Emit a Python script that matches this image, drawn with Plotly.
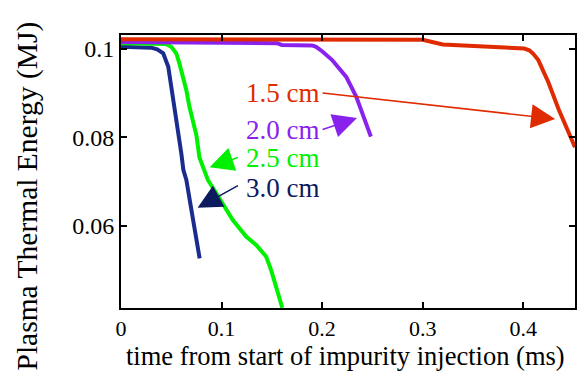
import plotly.graph_objects as go

# ---- data ----
t_15 = [0.0, 0.10, 0.20, 0.300, 0.320, 0.370, 0.401, 0.406, 0.410, 0.415, 0.425, 0.435, 0.445, 0.4515]
e_15 = [0.1022, 0.1022, 0.1022, 0.1021, 0.1010, 0.1004, 0.1001, 0.0997, 0.0989, 0.0975, 0.0925, 0.0865, 0.0812, 0.0778]

t_20 = [0.0, 0.070, 0.155, 0.160, 0.190, 0.194, 0.200, 0.210, 0.224, 0.234, 0.2416, 0.2485]
e_20 = [0.1016, 0.1015, 0.1013, 0.1009, 0.1008, 0.1005, 0.0995, 0.0975, 0.0937, 0.0892, 0.0847, 0.0802]

t_25 = [0.0, 0.045, 0.050, 0.055, 0.058, 0.0617, 0.065, 0.068, 0.0716, 0.075, 0.078, 0.082,
        0.0864, 0.0948, 0.103, 0.111, 0.1245, 0.1344, 0.1443, 0.1492, 0.1542, 0.1604]
e_25 = [0.1013, 0.1011, 0.1005, 0.0990, 0.0968, 0.0937, 0.0907, 0.0870, 0.0835, 0.0805, 0.0755, 0.0728,
        0.0704, 0.0674, 0.0644, 0.0614, 0.0576, 0.0557, 0.0531, 0.0501, 0.0463, 0.0415]

t_30 = [0.0, 0.030, 0.036, 0.042, 0.047, 0.050, 0.0535, 0.057, 0.060, 0.062, 0.065, 0.069, 0.0733, 0.0782]
e_30 = [0.1005, 0.1003, 0.0999, 0.0990, 0.0960, 0.0915, 0.0870, 0.0817, 0.0764, 0.0727, 0.0704, 0.0650, 0.0591, 0.0527]

labels = ["1.5 cm", "2.0 cm", "2.5 cm", "3.0 cm"]

x_tickvals = [0, 0.1, 0.2, 0.3, 0.4]
x_ticktext = ["0", "0.1", "0.2", "0.3", "0.4"]
y_tickvals = [0.06, 0.08, 0.1]
y_ticktext = ["0.06", "0.08", "0.1"]

x_title = "time from start of impurity injection (ms)"
y_title = "Plasma Thermal Energy (MJ)"

# ---- styles ----
C_RED = "#e02a00"
C_PUR = "#8a22ee"
C_GRN = "#00f000"
C_BLU = "#1c2c8e"
C_BLU_TXT = "#0c1a5e"
FONT = "Liberation Serif"

fig = go.Figure()
fig.add_trace(go.Scatter(x=t_30, y=e_30, mode="lines", line=dict(color=C_BLU, width=4), name=labels[3]))
fig.add_trace(go.Scatter(x=t_25, y=e_25, mode="lines", line=dict(color=C_GRN, width=4), name=labels[2]))
fig.add_trace(go.Scatter(x=t_20, y=e_20, mode="lines", line=dict(color=C_PUR, width=4), name=labels[1]))
fig.add_trace(go.Scatter(x=t_15, y=e_15, mode="lines", line=dict(color=C_RED, width=4), name=labels[0]))

# label texts and arrows: (text, color, text x, text y, tail x, tail y, tip x, tip y)
ann_specs = [
    (labels[0], C_RED, 0.1228, 0.0901, 0.199, 0.0901, 0.4317, 0.0842),
    (labels[1], C_PUR, 0.1228, 0.0817, 0.199, 0.0817, 0.2347, 0.0844),
    (labels[2], C_GRN, 0.1228, 0.0754, 0.1178, 0.0756, 0.0881, 0.0733),
    (labels[3], C_BLU_TXT, 0.1228, 0.0687, 0.1178, 0.0693, 0.0762, 0.0641),
]
annotations = []
for txt, col, tx, ty, ax_, ay_, hx, hy in ann_specs:
    annotations.append(dict(x=tx, y=ty, xref="x", yref="y", text=txt, showarrow=False,
                            xanchor="left", yanchor="middle",
                            font=dict(family=FONT, size=27, color=col)))
    annotations.append(dict(x=hx, y=hy, xref="x", yref="y", ax=ax_, ay=ay_, axref="x", ayref="y",
                            text="", showarrow=True, arrowhead=2, arrowsize=3.2, arrowwidth=1.5,
                            arrowcolor=col, standoff=0, startstandoff=0))

annotations.append(dict(x=0.4945, y=-0.176, xref="paper", yref="paper", text=x_title, showarrow=False,
                        xanchor="center", yanchor="middle", font=dict(family=FONT, size=26.5, color="black")))
annotations.append(dict(x=-0.2061, y=0.41, xref="paper", yref="paper", text=y_title, showarrow=False,
                        textangle=-90, xanchor="center", yanchor="middle",
                        font=dict(family=FONT, size=29.5, color="black")))

fig.update_layout(
    width=585, height=373,
    margin=dict(l=121, r=8, t=35, b=65),
    paper_bgcolor="white", plot_bgcolor="white",
    showlegend=False,
    font=dict(family=FONT, size=24, color="black"),
    annotations=annotations,
    xaxis=dict(range=[0, 0.4515], tickvals=x_tickvals, ticktext=x_ticktext,
               ticks="inside", ticklen=6, tickwidth=1.5, tickcolor="black",
               showline=True, linecolor="black", linewidth=2, mirror="allticks",
               showgrid=False, zeroline=False, tickfont=dict(family=FONT, size=22)),
    yaxis=dict(range=[0.04147, 0.10316], tickvals=y_tickvals, ticktext=y_ticktext,
               ticks="inside", ticklen=6, tickwidth=1.5, tickcolor="black",
               showline=True, linecolor="black", linewidth=2, mirror="allticks",
               showgrid=False, zeroline=False, tickfont=dict(family=FONT, size=24)),
)

fig.write_html("out.html")
